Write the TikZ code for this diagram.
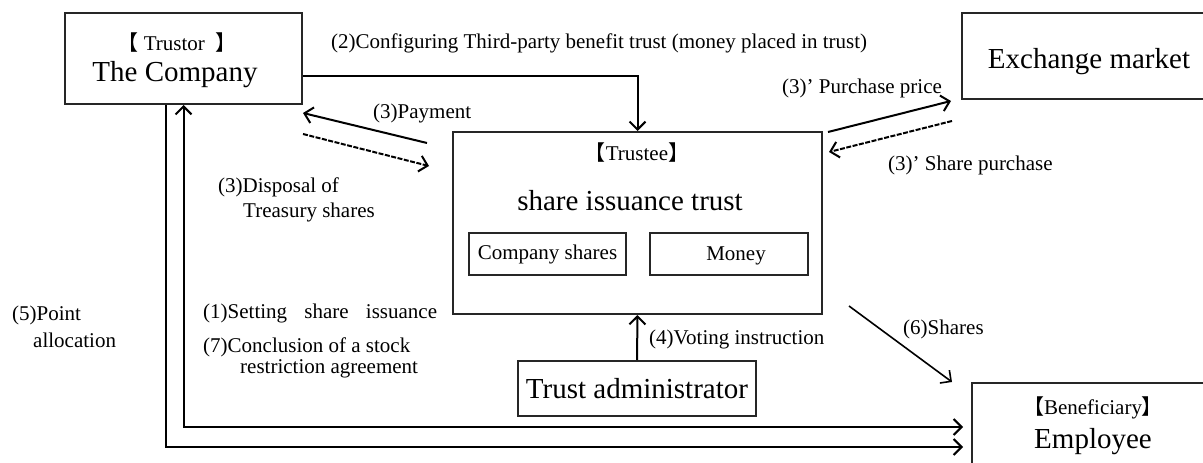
\documentclass[tikz,border=0pt]{standalone}
\usepackage{fontspec}
\setmainfont{Liberation Serif}
\newfontfamily\cjk{Noto Sans CJK JP}
\usepackage{tikz}
\usetikzlibrary{arrows.meta}
\newcommand\lbr{{\cjk 【}}
\newcommand\rbr{{\cjk 】}}
\tikzstyle{party}=[rectangle,draw=black!85,line width=2pt,inner sep=0mm]
\tikzstyle{big}=[inner sep=0mm,font=\fontsize{29}{32}\selectfont]
\tikzstyle{small}=[inner sep=0mm,font=\fontsize{21}{24}\selectfont]
\tikzstyle{note}=[inner sep=0mm,anchor=west,align=left,font=\fontsize{21}{25}\selectfont]
\tikzstyle{arrow}=[->,>={Straight Barb[length=8pt,width=16pt]},line width=2pt]
\tikzstyle{flowdash}=[arrow,line width=2pt,dash pattern=on 5pt off 1.5pt]

\begin{document}
\begin{tikzpicture}[x=1pt,y=-1pt]
          \useasboundingbox (0,0) rectangle (1203,463);
          % boxes
          \node[party, minimum width=237, minimum height=91] at (183.5,58.5) (company) {};
          \node[small] at (177,43) (trustor) {\lbr\ Trustor \ \rbr};
          \node[big] at (175,75) (companyname) {The Company};
          \node[party, minimum width=253, minimum height=86] at (1088.5,56) (market) {};
          \node[big] at (1089,62) (marketname) {Exchange market};
          \node[party, minimum width=369, minimum height=182] at (637.5,223) (trustee) {};
          \node[small] at (637,153) (trusteelbl) {\lbr Trustee\rbr};
          \node[big] at (630,201) (trustname) {share issuance trust};
          \node[party, small, minimum width=157, minimum height=42] at (547.5,254) (shares) {Company shares};
          \node[party, minimum width=158, minimum height=42] at (729,254) (money) {};
          \node[small] at (736,256) (moneylbl) {Money};
          \node[party, big, minimum width=238, minimum height=55] at (637,388.5) (admin) {Trust administrator};
          \node[party, minimum width=242, minimum height=102] at (1093,434) (employee) {};
          \node[small] at (1093,408) (beneflbl) {\lbr Beneficiary\rbr};
          \node[big] at (1093,442) (employeename) {Employee};
          % connectors
          \draw [arrow] ([yshift=-17.5pt]company.east) -| (trustee.north);
          \draw [arrow] ([xshift=-25pt,yshift=-12pt]trustee.north west) -- ([yshift=-8pt]company.south east);
          \draw [flowdash] ([yshift=-29pt]company.south east) -- ([xshift=-23pt,yshift=-35pt]trustee.north west);
          \draw [arrow] ([xshift=5pt,yshift=-1pt]trustee.north east) -- ([xshift=-10pt,yshift=-1pt]market.south west);
          \draw [flowdash] ([xshift=-9pt,yshift=-21pt]market.south west) -- ([xshift=6pt,yshift=-21pt]trustee.north east);
          \draw [arrow] (admin.north) -- (trustee.south);
          \draw [arrow,line width=1.6pt] ([xshift=26pt,yshift=9pt]trustee.south east) -- ([xshift=-19pt]employee.north west);
          \draw [arrow,<->] (company.south) |- ([xshift=-8pt,yshift=-45pt]employee.north west);
          \draw [arrow] ([xshift=-17.5pt]company.south) |- ([xshift=-8pt,yshift=-65pt]employee.north west);
          % labels
          \node[note] at (331,43) (cfgtxt) {(2)Configuring Third-party benefit trust (money placed in trust)};
          \node[note] at (373,113) (paytxt) {(3)Payment};
          \node[note] at (218,199.5) (disptxt) {(3)Disposal of\\\hspace*{25pt}Treasury shares};
          \node[note] at (782,88) (pricetxt) {(3)\textquoteright\ Purchase price};
          \node[note] at (888,165) (buytxt) {(3)\textquoteright\ Share purchase};
          \node[note] at (649,339) (votetxt) {(4)Voting instruction};
          \node[note] at (903,329) (sharetxt) {(6)Shares};
          \node[note] at (12,326.5) (pointtxt) {(5)Point\\[2pt]\hspace*{21pt}allocation};
          \node[note] at (203,313) (settxt) {(1)Setting\hspace{12pt} share\hspace{12pt} issuance};
          \node[note] at (203,358) (concltxt) {(7)Conclusion of a stock\\[-4pt]\hspace*{37pt}restriction agreement};
        \end{tikzpicture}
\end{document}
